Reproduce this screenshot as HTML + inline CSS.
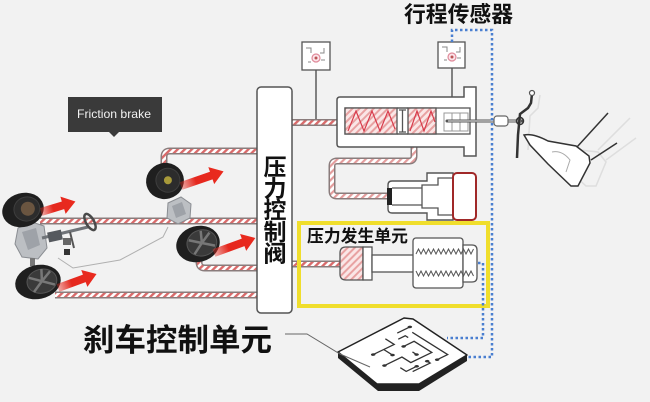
<!DOCTYPE html>
<html><head><meta charset="utf-8"><style>
html,body{margin:0;padding:0;background:#f2f2f2;}
svg{display:block;}
text{font-family:"Liberation Sans","Noto Sans CJK SC",sans-serif;}
</style></head><body>
<svg width="650" height="402" viewBox="0 0 650 402" xmlns="http://www.w3.org/2000/svg">
<defs>
<pattern id="hr" patternUnits="userSpaceOnUse" width="5" height="5" patternTransform="rotate(45)">
<rect width="5" height="5" fill="#fff"/><rect width="2.4" height="5" fill="#d96a6a"/>
</pattern>
<pattern id="hp" patternUnits="userSpaceOnUse" width="5" height="5" patternTransform="rotate(45)">
<rect width="5" height="5" fill="#fae6e6"/><rect width="2" height="5" fill="#e8a2a2"/>
</pattern>
<pattern id="hp2" patternUnits="userSpaceOnUse" width="5" height="5" patternTransform="rotate(45)">
<rect width="5" height="5" fill="#fff"/><rect width="2.2" height="5" fill="#e39c9c"/>
</pattern>
<linearGradient id="ag" x1="0" y1="0" x2="1" y2="0">
<stop offset="0" stop-color="#e5281e" stop-opacity="0.35"/>
<stop offset="0.35" stop-color="#e5281e" stop-opacity="1"/>
<stop offset="1" stop-color="#ea2a1e" stop-opacity="1"/>
</linearGradient>
</defs>
<rect width="650" height="402" fill="#f2f2f2"/>

<!-- pipes -->
<g fill="none" stroke-linejoin="round">
<path d="M164,166 V157 Q164,151 170,151 H258 M40,221 H258 M199,258 V262 Q199,268 205,268 H258 M55,295 H258 M292,122.5 H340 M292,264 H342" stroke="#8a7c7c" stroke-width="7"/>
<path d="M164,166 V157 Q164,151 170,151 H258 M40,221 H258 M199,258 V262 Q199,268 205,268 H258 M55,295 H258 M292,122.5 H340 M292,264 H342" stroke="url(#hr)" stroke-width="4"/>
<path d="M414,134 V156 Q414,161 409,161 H337 Q332,161 332,166 V191 Q332,196 337,196 H389" stroke="#8a7c7c" stroke-width="7"/>
<path d="M414,134 V156 Q414,161 409,161 H337 Q332,161 332,166 V191 Q332,196 337,196 H389" stroke="url(#hp2)" stroke-width="4"/>
</g>

<!-- thin harness line -->
<polyline points="58,258 73,268 120,260 163,237 168,227" fill="none" stroke="#b0b0b0" stroke-width="1"/>

<!-- left chassis -->
<path d="M18,228 L32,222 L44,226 L47,248 L38,259 L22,257 L15,244 Z" fill="#bcbfc3" stroke="#8a8d92" stroke-width="1"/>
<path d="M22,232 L36,228 L40,245 L28,250 Z" fill="#9ea2a8"/>
<line x1="42" y1="238" x2="88" y2="227" stroke="#6f7378" stroke-width="3"/>
<rect x="48" y="231" width="14" height="10" fill="#55595e" transform="rotate(-12 55 236)"/>
<rect x="63" y="238" width="8" height="7" fill="#666" />
<rect x="64" y="249" width="6" height="6" fill="#333"/>
<line x1="70" y1="232" x2="74" y2="248" stroke="#555" stroke-width="2"/>
<ellipse cx="90" cy="222" rx="4" ry="9" fill="none" stroke="#4a4a4a" stroke-width="2.5" transform="rotate(-30 90 222)"/>
<rect x="30" y="258" width="5" height="8" fill="#777"/>

<!-- right diff -->
<path d="M168,203 L181,197 L191,204 L190,218 L178,224 L167,218 Z" fill="#bcbfc3" stroke="#8a8d92" stroke-width="1"/>
<path d="M172,206 L182,202 L186,214 L176,218 Z" fill="#9ea2a8"/>

<!-- wheels -->
<g transform="translate(23,210) rotate(-15)">
<ellipse rx="21" ry="17" fill="#1f1f1f"/>
<ellipse cx="4" rx="13" ry="12" fill="#2c2c2c" stroke="#3e3e3e"/>
<ellipse cx="5" rx="7" ry="7" fill="#6a5540"/>
</g>
<g transform="translate(38,282) rotate(-12)">
<ellipse rx="23" ry="17" fill="#1f1f1f"/>
<ellipse cx="4" rx="15" ry="12" fill="#3a3a3a" stroke="#555"/>
<path d="M4,0 L-8,-6 M4,0 L14,-8 M4,0 L16,6 M4,0 L-6,9 M4,0 L6,-12" stroke="#777" stroke-width="2.5"/>
</g>
<g transform="translate(165,181) rotate(-15)">
<ellipse rx="19" ry="18" fill="#1f1f1f"/>
<ellipse cx="3" rx="12" ry="12" fill="#2c2c2c" stroke="#3e3e3e"/>
<ellipse cx="3" rx="4" ry="4" fill="#a89a3a"/>
</g>
<g transform="translate(198,244) rotate(-15)">
<ellipse rx="22" ry="18" fill="#1f1f1f"/>
<ellipse cx="4" rx="15" ry="13" fill="#3a3a3a" stroke="#555"/>
<path d="M4,0 L-8,-6 M4,0 L14,-8 M4,0 L16,6 M4,0 L-6,9 M4,0 L6,-12" stroke="#777" stroke-width="2.5"/>
</g>

<!-- red arrows -->
<g fill="url(#ag)">
<path transform="translate(41,212) rotate(-17)" d="M0,-4 H23 V-9 L36,0 L23,9 V4 H0 Z"/>
<path transform="translate(58,288) rotate(-20)" d="M0,-4 H28 V-9 L41,0 L28,9 V4 H0 Z"/>
<path transform="translate(181,186) rotate(-19)" d="M0,-4 H32 V-9 L45,0 L32,9 V4 H0 Z"/>
<path transform="translate(214,253) rotate(-20)" d="M0,-4 H31 V-9 L44,0 L31,9 V4 H0 Z"/>
</g>

<!-- Friction brake label -->
<rect x="68" y="97" width="94" height="35" fill="#3a3a3a"/>
<path d="M109,132 L114,137 L119,132 Z" fill="#3a3a3a"/>
<text x="77" y="118" font-size="12" fill="#f2f2f2" textLength="74" lengthAdjust="spacingAndGlyphs">Friction brake</text>

<!-- valve -->
<rect x="257" y="87" width="35" height="226" rx="4" fill="#fff" stroke="#555" stroke-width="1.5"/>
<g font-size="23" font-weight="bold" fill="#111" text-anchor="middle">
<text x="275" y="175">压</text>
<text x="275" y="196.6">力</text>
<text x="275" y="218.2">控</text>
<text x="275" y="239.8">制</text>
<text x="275" y="261.4">阀</text>
</g>

<!-- sensors -->
<line x1="316" y1="62" x2="316" y2="119" stroke="#444" stroke-width="1.3"/>
<line x1="452" y1="61" x2="452" y2="98" stroke="#444" stroke-width="1.3"/>
<rect x="302" y="42" width="28" height="28" fill="#fff" stroke="#555" stroke-width="1.3"/>
<rect x="438" y="42" width="27" height="26" fill="#fff" stroke="#555" stroke-width="1.3"/>
<g fill="none" stroke="#888" stroke-width="1">
<path d="M306,48 H311 V53 M324,48 V53 H320 M308,62 H311 M325,60 H321"/>
<path d="M442,47 H447 V52 M460,47 V52 H456 M444,60 H447 M461,58 H457"/>
</g>
<circle cx="316" cy="58" r="4" fill="#fbe4ea" stroke="#e08a9a" stroke-width="1.2"/>
<circle cx="316" cy="58" r="1.5" fill="#b55"/>
<circle cx="452" cy="57" r="4" fill="#fbe4ea" stroke="#e08a9a" stroke-width="1.2"/>
<circle cx="452" cy="57" r="1.5" fill="#b55"/>

<!-- master cylinder -->
<path d="M340,97 H464 V87 H476 V156 H464 V147 H340 Q337,147 337,144 V100 Q337,97 340,97 Z" fill="#fff" stroke="#555" stroke-width="1.5"/>
<rect x="345" y="108" width="125" height="26" fill="#fff" stroke="#555" stroke-width="1.3"/>
<rect x="345" y="108" width="52" height="26" fill="url(#hp)" stroke="#555" stroke-width="1.3"/>
<rect x="408" y="108" width="28" height="26" fill="url(#hp)" stroke="#555" stroke-width="1.3"/>
<polyline points="348,131 356,111 364,131 372,111 380,131 388,111 395,129" fill="none" stroke="#d83c4c" stroke-width="1.2"/>
<polyline points="410,131 417,111 424,131 431,111 435,122" fill="none" stroke="#d83c4c" stroke-width="1.2"/>
<path d="M397,108 H408 M397,134 H408 M402.5,110 V132" stroke="#555" stroke-width="1.3" fill="none"/>
<path d="M399,110 H406 M399,132 H406" stroke="#555" stroke-width="1.3"/>
<rect x="444" y="113" width="24" height="18" fill="none" stroke="#999" stroke-width="1"/>
<line x1="452" y1="113" x2="452" y2="131" stroke="#999" stroke-width="1"/>
<line x1="460" y1="113" x2="460" y2="131" stroke="#999" stroke-width="1"/>

<!-- push rod -->
<line x1="447" y1="121" x2="522" y2="121" stroke="#555" stroke-width="3" stroke-linecap="round"/>
<line x1="448" y1="121" x2="521" y2="121" stroke="#eee" stroke-width="1"/>
<rect x="494" y="116" width="14" height="10" rx="3" fill="#fff" stroke="#666" stroke-width="1.2"/>

<!-- accumulator cylinder -->
<path d="M392,181 H427 V173 H453 V220 H427 V213 H392 Q388,213 388,209 V185 Q388,181 392,181 Z" fill="#fff" stroke="#555" stroke-width="1.4"/>
<path d="M392,188 H422 V185 H438 V178 H453 M392,205 H422 V208 H438 V215 H453 M422,188 V205" fill="none" stroke="#555" stroke-width="1.3"/>
<rect x="387" y="188" width="5" height="17" fill="#222"/>
<rect x="453" y="173" width="23" height="47" rx="4" fill="#fff" stroke="#a02828" stroke-width="2"/>

<!-- yellow box -->
<rect x="299" y="223" width="189" height="83" fill="none" stroke="#f0de2c" stroke-width="4"/>
<text x="307" y="242" font-size="17" font-weight="bold" fill="#111" textLength="101" lengthAdjust="spacingAndGlyphs">压力发生单元</text>

<!-- pressure generation unit -->
<path d="M346,247 H363 V280 H346 Q340,280 340,274 V253 Q340,247 346,247 Z" fill="url(#hp)" stroke="#555" stroke-width="1.3"/>
<rect x="363" y="247" width="9" height="33" fill="#fff" stroke="#555" stroke-width="1.3"/>
<rect x="372" y="255" width="42" height="17" fill="#fff" stroke="#555" stroke-width="1.3"/>
<rect x="413" y="238" width="50" height="50" rx="3" fill="#fff" stroke="#555" stroke-width="1.3"/>
<path d="M463,245 H472 Q477,245 477,250 V277 Q477,282 472,282 H463 Z" fill="#fff" stroke="#555" stroke-width="1.3"/>
<polyline points="416,254 418.5,249 421,254 423.5,249 426,254 428.5,249 431,254 433.5,249 436,254 438.5,249 441,254 443.5,249 446,254 448.5,249 451,254 453.5,249 456,254 458.5,249 461,254 463.5,249 466,254 468.5,249 471,254 473.5,249" fill="none" stroke="#555" stroke-width="1"/>
<polyline points="416,271 418.5,276 421,271 423.5,276 426,271 428.5,276 431,271 433.5,276 436,271 438.5,276 441,271 443.5,276 446,271 448.5,276 451,271 453.5,276 456,271 458.5,276 461,271 463.5,276 466,271 468.5,276 471,271 473.5,276" fill="none" stroke="#555" stroke-width="1"/>

<!-- dotted sensor line -->
<g fill="none" stroke="#4a7fd0" stroke-width="2.5" stroke-dasharray="2.5 2.5">
<path d="M452,42 V30 H492 V357 H467"/>
<path d="M478,263 H483 V338 H447"/>
</g>

<!-- pedal ghost -->
<g fill="none" stroke="#dedede" stroke-width="1.5">
<polyline points="540,95 538,108 530,116 528,150"/>
<path d="M538,140 Q560,142 580,150 L598,152 L606,162 L596,186 L586,186 L558,160 Z"/>
<line x1="598" y1="150" x2="630" y2="118"/>
<line x1="606" y1="160" x2="636" y2="138"/>
</g>
<!-- pedal -->
<polyline points="532,94 531,103 528,108 520,114 518,135 517,158" fill="none" stroke="#333" stroke-width="2.5"/>
<circle cx="532" cy="93" r="2.5" fill="#fff" stroke="#555" stroke-width="1.2"/>
<circle cx="520" cy="121" r="3.5" fill="none" stroke="#333" stroke-width="1.5"/>
<path d="M524,135 Q533,133 548,141 L576,146 L589,156 L590,163 L578,186 L571,186 L548,164 L530,145 Z" fill="#fff" stroke="#333" stroke-width="1.5"/>
<path d="M552,152 Q562,150 570,160 L566,172" fill="none" stroke="#aaa" stroke-width="1"/>
<line x1="577" y1="147" x2="608" y2="113" stroke="#333" stroke-width="1.5"/>
<line x1="591" y1="160" x2="617" y2="143" stroke="#333" stroke-width="1.5"/>

<!-- ECU chip -->
<path d="M338,352 L338,358 L378,391 L419,391 L467,361 L467,355 L419,384 L377,384 Z" fill="#222"/>
<path d="M338,352 L404,318 L413,319 L467,355 L419,384 L377,384 Z" fill="#fff" stroke="#222" stroke-width="1.5" stroke-linejoin="round"/>
<g transform="matrix(0.70,-0.34,0.59,0.37,338,352)" fill="none" stroke="#333" stroke-width="1.3">
<path vector-effect="non-scaling-stroke" d="M25,30 H55 V15 M40,45 V30 M20,55 H45 V70 H75 V40 H60 M60,55 V62 M35,85 H60 V80 M85,25 V85 H70 M72,15 H90 M30,70 V80 H45 M65,25 H75 V30"/>
</g>
<g transform="matrix(0.70,-0.34,0.59,0.37,338,352)" fill="#333">
<circle cx="40" cy="45" r="2.5"/><circle cx="60" cy="40" r="2.5"/><circle cx="60" cy="62" r="2.5"/>
<circle cx="60" cy="80" r="2.5"/><circle cx="70" cy="85" r="2.5"/><circle cx="90" cy="15" r="2.5"/>
<circle cx="20" cy="55" r="2.5"/><circle cx="25" cy="30" r="2.5"/><circle cx="45" cy="80" r="2.5"/>
</g>

<!-- leader line -->
<polyline points="285,334 307,334 340,354 370,367" fill="none" stroke="#666" stroke-width="1"/>

<!-- titles -->
<text x="404" y="22" font-size="22" font-weight="bold" fill="#111" textLength="109" lengthAdjust="spacingAndGlyphs">行程传感器</text>
<text x="83" y="351" font-size="31" font-weight="bold" fill="#111" textLength="189" lengthAdjust="spacingAndGlyphs">刹车控制单元</text>
</svg>
</body></html>
